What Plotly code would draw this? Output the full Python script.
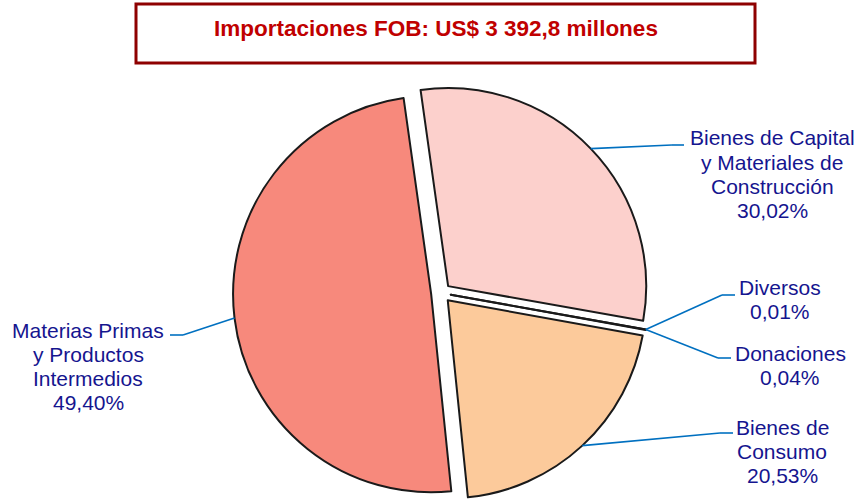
import math
import plotly.graph_objects as go

# ---- data ----
categories = ["Bienes de Capital y Materiales de Construcción", "Diversos", "Donaciones",
              "Bienes de Consumo", "Materias Primas y Productos Intermedios"]
values = [30.02, 0.01, 0.04, 20.53, 49.40]
label_lines = [
    ["Bienes de Capital", "y Materiales de", "Construcción", "30,02%"],
    ["Diversos", "0,01%"],
    ["Donaciones", "0,04%"],
    ["Bienes de", "Consumo", "20,53%"],
    ["Materias Primas", "y Productos", "Intermedios", "49,40%"],
]
title_text = "Importaciones FOB: US$ 3 392,8 millones"

# ---- style ----
W, H = 856, 501
colors = ["#FCD0CC", "#C8C8C8", "#B0B0B0", "#FCCA9B", "#F7897C"]
pulls = [0.05, 0.05, 0.05, 0.05, 0.05]
rotation = -8
text_color = "#15158F"
leader_color = "#0070C0"
label_font = "Liberation Sans, Arial, sans-serif"

# pie domain (pixels)
cx_px, top_px = 441, 85
dom_h = H - top_px
dom_x = [(cx_px - 210) / W, (cx_px + 210) / W]
dom_y = [0, 1 - top_px / H]
r_px = min(420, dom_h) / (2 + 2 * max(pulls))
cy_px = top_px + dom_h / 2


def px(x, y):
    return x / W, 1 - y / H


def edge_point(idx, frac=None):
    """Point on the pulled outer edge of slice idx (frac in [0,1] along slice)."""
    total = sum(values)
    start = rotation + 360 * sum(values[:idx]) / total
    span = 360 * values[idx] / total
    mid = start + span / 2
    ang = start + span * (frac if frac is not None else 0.5)
    ox = r_px * pulls[idx] * math.sin(math.radians(mid))
    oy = -r_px * pulls[idx] * math.cos(math.radians(mid))
    return (cx_px + ox + r_px * math.sin(math.radians(ang)),
            cy_px + oy - r_px * math.cos(math.radians(ang)))


fig = go.Figure(go.Pie(
    labels=categories, values=values, sort=False, direction="clockwise",
    rotation=rotation, pull=pulls, textinfo="none", hoverinfo="label+percent",
    marker=dict(colors=colors, line=dict(color="#1A1A1A", width=2)),
    domain=dict(x=dom_x, y=dom_y), showlegend=False,
))

shapes = []
annotations = []

# title box
x0, y0 = px(136, 4)
x1, y1 = px(755, 63)
shapes.append(dict(type="rect", xref="paper", yref="paper", x0=x0, y0=y0, x1=x1, y1=y1,
                   line=dict(color="#8E0000", width=3), fillcolor="rgba(0,0,0,0)", layer="above"))
tx, ty = px(436, 29)
annotations.append(dict(text=f"<b>{title_text}</b>", x=tx, y=ty, xref="paper", yref="paper",
                        showarrow=False, xanchor="center", yanchor="middle",
                        font=dict(family="Liberation Sans Narrow, Arial Narrow, Liberation Sans, sans-serif",
                                  size=22.5, color="#C00000")))

# leader lines: (slice index, frac, elbow, end)
leaders = [
    (0, None, (672, 145), (684, 145)),
    (1, 1.0, (722, 295), (735, 295)),
    (2, 0.0, (718, 358), (731, 358)),
    (3, None, (720, 433), (733, 433)),
    (4, None, (183, 335), (170, 335)),
]
for idx, frac, elbow, end in leaders:
    sx, sy = edge_point(idx, frac)
    for (a, b) in [((sx, sy), elbow), (elbow, end)]:
        ax0, ay0 = px(*a)
        ax1, ay1 = px(*b)
        shapes.append(dict(type="line", xref="paper", yref="paper", x0=ax0, y0=ay0, x1=ax1, y1=ay1,
                           line=dict(color=leader_color, width=1.6)))

# labels (center x, first line y)
label_pos = [(772, 138), (780, 287), (790, 353), (782, 427), (88, 330)]
line_step = 24.3
for lines, (lx, ly) in zip(label_lines, label_pos):
    for k, t in enumerate(lines):
        ax_, ay_ = px(lx, ly + k * line_step)
        annotations.append(dict(text=t, x=ax_, y=ay_, xref="paper", yref="paper",
                                showarrow=False, xanchor="center", yanchor="middle",
                                font=dict(family=label_font, size=21, color=text_color)))

fig.update_layout(
    width=W, height=H, margin=dict(l=0, r=0, t=0, b=0),
    paper_bgcolor="white", plot_bgcolor="white",
    shapes=shapes, annotations=annotations,
)

fig.write_html("out.html", config={"displayModeBar": False},
               post_script="document.body.style.margin='0';document.body.style.overflow='hidden';")
